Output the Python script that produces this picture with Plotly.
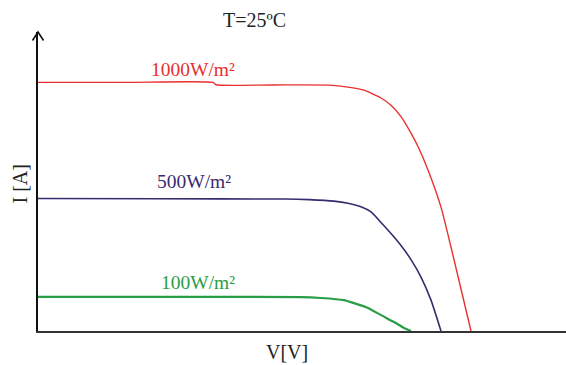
import plotly.graph_objects as go

# Data (V in arbitrary volts, I in arbitrary amps)
v_1000 = [0.0, 9.0, 17.5, 17.8, 23.5, 29.1, 30.8, 31.8, 32.6, 33.3, 34.3, 35.3, 36.3, 37.3, 38.0, 39.0, 40.3, 41.3, 42.3, 43.3]
i_1000 = [8.29, 8.29, 8.29, 8.21, 8.205, 8.20, 8.14, 8.09, 8.03, 7.93, 7.77, 7.53, 7.15, 6.60, 6.15, 5.37, 4.13, 2.80, 1.40, 0.0]

v_500 = [0.0, 12.0, 24.8, 27.1, 29.6, 31.0, 32.3, 33.3, 34.3, 35.3, 36.3, 37.3, 38.3, 39.3, 40.3]
i_500 = [4.42, 4.41, 4.40, 4.38, 4.33, 4.26, 4.14, 3.97, 3.62, 3.25, 2.85, 2.38, 1.80, 1.03, 0.0]

v_100 = [0.0, 13.0, 26.3, 28.3, 30.6, 31.6, 33.0, 34.3, 35.6, 36.6, 37.3]
i_100 = [1.14, 1.14, 1.13, 1.10, 1.03, 0.93, 0.77, 0.53, 0.30, 0.10, 0.0]

labels = ["1000W/m²", "500W/m²", "100W/m²"]
label_pos = [(15.5, 8.73), (15.6, 4.97), (16.0, 1.63)]
colors = ["#e8302e", "#3a2a6e", "#2a9e46"]
widths = [1.4, 1.6, 2.2]

x_range = [0, 52.8]
y_range = [0, 9.97]

serif = "Liberation Serif, Times New Roman, serif"

fig = go.Figure()
for v, i, c, w in zip([v_1000, v_500, v_100], [i_1000, i_500, i_100], colors, widths):
    fig.add_trace(go.Scatter(x=v, y=i, mode="lines",
                             line=dict(color=c, width=w, shape="spline", smoothing=0.5),
                             hoverinfo="skip", showlegend=False))

for lab, (x, y), c in zip(labels, label_pos, colors):
    fig.add_annotation(x=x, y=y, text=lab, showarrow=False, xref="x", yref="y",
                       font=dict(family=serif, size=19.5, color=c))

fig.add_annotation(x=0.41, y=1.0, xref="paper", yref="paper", yshift=12, yanchor="middle",
                   text="T=25ºC", showarrow=False, font=dict(family=serif, size=20, color="#222"))
fig.add_annotation(x=0.472, y=0, xref="paper", yref="paper", yshift=-8, yanchor="top",
                   text="V[V]", showarrow=False, font=dict(family=serif, size=20, color="#222"))
fig.add_annotation(x=0, y=0.49, xref="paper", yref="paper", xshift=-18, xanchor="center",
                   text="I [A]", textangle=-90, showarrow=False, font=dict(family=serif, size=20, color="#222"))

# arrow head on top of y axis
fig.add_shape(type="path", xref="paper", yref="paper", xsizemode="pixel", ysizemode="pixel",
              xanchor=0, yanchor=1, path="M -5.5 -8.5 L 0 0 L 5.5 -8.5",
              line=dict(color="#111", width=1.6))

fig.update_xaxes(range=x_range, showgrid=False, zeroline=False, showticklabels=False, ticks="",
                 showline=True, linecolor="#333", linewidth=2.4)
fig.update_yaxes(range=y_range, showgrid=False, zeroline=False, showticklabels=False, ticks="",
                 showline=True, linecolor="#111", linewidth=1.6)

fig.update_layout(width=566, height=365, margin=dict(l=38, r=0, t=32, b=34),
                  plot_bgcolor="white", paper_bgcolor="white")

fig.write_html("out.html")
